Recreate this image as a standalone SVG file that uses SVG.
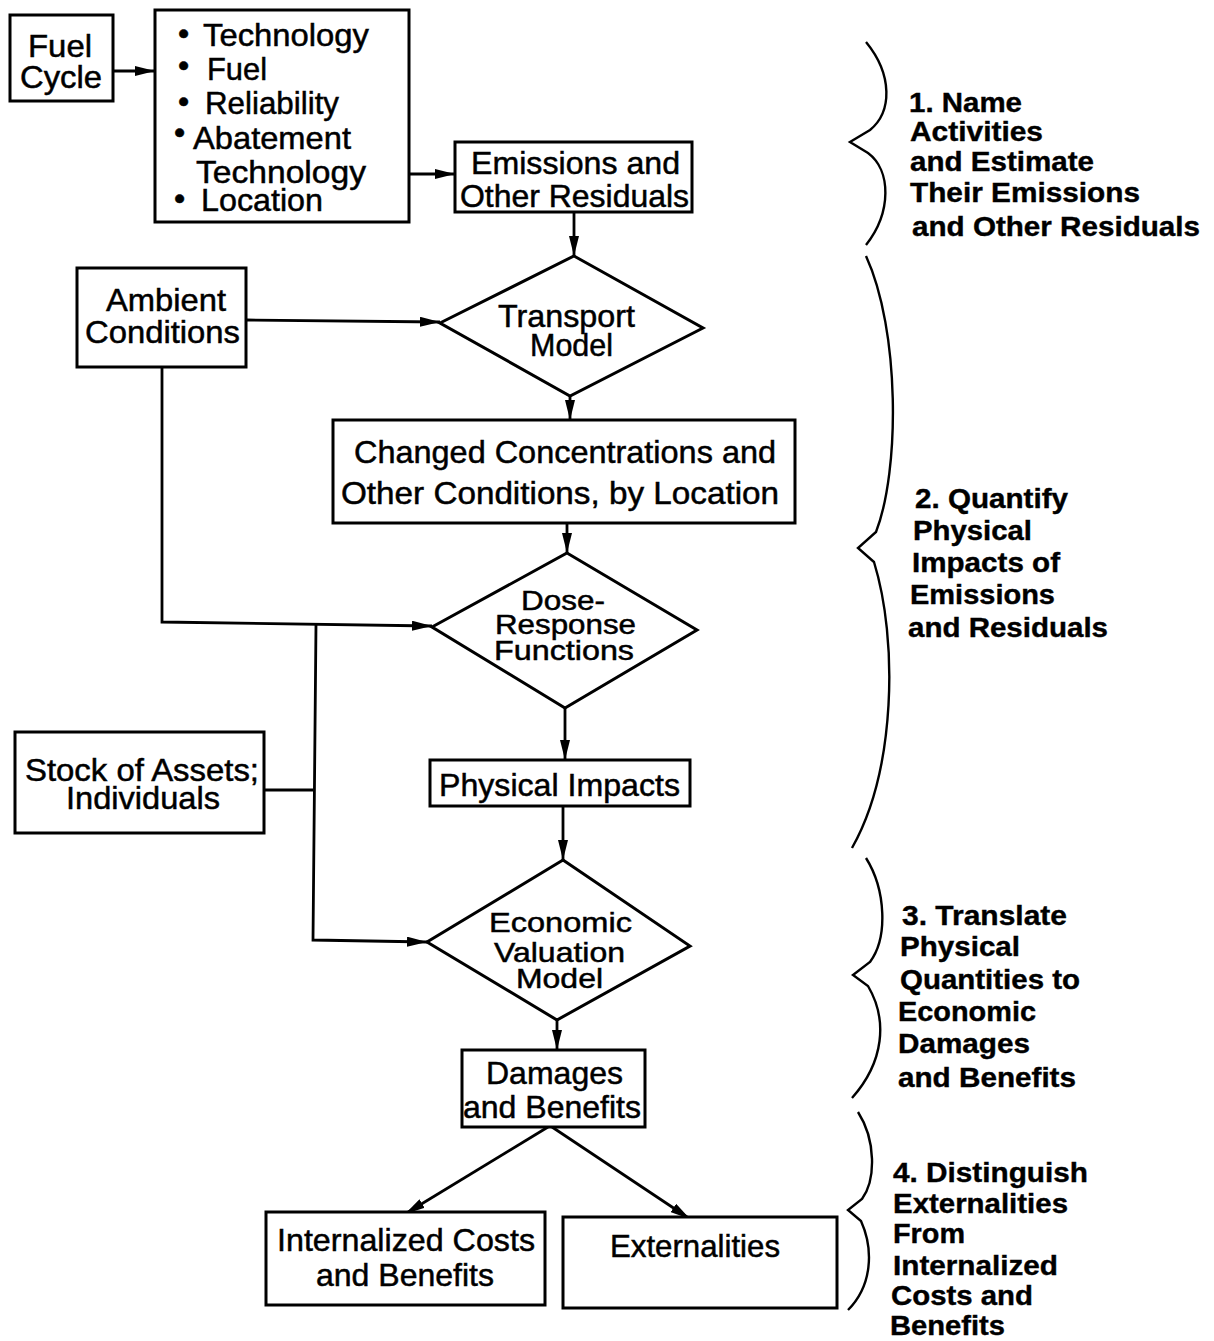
<svg xmlns="http://www.w3.org/2000/svg" width="1214" height="1341" viewBox="0 0 1214 1341">
<style>
.box{fill:#fff;stroke:#000;stroke-width:3}
.t{font-family:"Liberation Sans",Arial,sans-serif;font-size:32px;fill:#000;stroke:#000;stroke-width:0.5}
.s{font-size:28px}
.b{font-family:"Liberation Sans",Arial,sans-serif;font-size:28px;font-weight:bold;fill:#000;stroke:#000;stroke-width:0.4}
.c{fill:none;stroke:#000;stroke-width:2.8}
.br{fill:none;stroke:#000;stroke-width:2.4;stroke-linejoin:miter}
</style>
<defs>
<marker id="ah" viewBox="0 0 20 10" refX="20" refY="5" markerWidth="20" markerHeight="10" markerUnits="userSpaceOnUse" orient="auto">
<path d="M0,0 L20,5 L0,10 Z" fill="#000"/>
</marker>
</defs>
<rect width="1214" height="1341" fill="#fff"/>

<g id="connectors">
<path class="c" d="M113 71 L155 71" marker-end="url(#ah)"/>
<path class="c" d="M409 174 L455 174" marker-end="url(#ah)"/>
<path class="c" d="M574 212 L574 256" marker-end="url(#ah)"/>
<path class="c" d="M247 320 L440 322" marker-end="url(#ah)"/>
<path class="c" d="M570 396 L570 420" marker-end="url(#ah)"/>
<path class="c" d="M162 367 L162 622 L432 626" marker-end="url(#ah)"/>
<path class="c" d="M567 523 L567 553" marker-end="url(#ah)"/>
<path class="c" d="M565 708 L565 760" marker-end="url(#ah)"/>
<path class="c" d="M264 790 L313 790"/>
<path class="c" d="M316 624 L313 940 L427 942" marker-end="url(#ah)"/>
<path class="c" d="M563 806 L563 860" marker-end="url(#ah)"/>
<path class="c" d="M557 1020 L557 1050" marker-end="url(#ah)"/>
<path class="c" d="M548 1127 L405 1214" marker-end="url(#ah)"/>
<path class="c" d="M552 1127 L690 1219" marker-end="url(#ah)"/>
</g>

<g id="fuel-cycle">
<rect class="box" x="10" y="15" width="103" height="86"/>
<text class="t" x="28" y="57" textLength="64" lengthAdjust="spacingAndGlyphs">Fuel</text>
<text class="t" x="20" y="88" textLength="82" lengthAdjust="spacingAndGlyphs">Cycle</text>
</g>

<g id="factors">
<rect class="box" x="155" y="10" width="254" height="212"/>
<text class="t" x="178" y="44">•</text>
<text class="t" x="203" y="46" textLength="166" lengthAdjust="spacingAndGlyphs">Technology</text>
<text class="t" x="178" y="76">•</text>
<text class="t" x="207" y="80" textLength="60" lengthAdjust="spacingAndGlyphs">Fuel</text>
<text class="t" x="178" y="112">•</text>
<text class="t" x="205" y="114" textLength="134" lengthAdjust="spacingAndGlyphs">Reliability</text>
<text class="t" x="174" y="143">•</text>
<text class="t" x="193" y="149" textLength="158" lengthAdjust="spacingAndGlyphs">Abatement</text>
<text class="t" x="196" y="183" textLength="170" lengthAdjust="spacingAndGlyphs">Technology</text>
<text class="t" x="174" y="209">•</text>
<text class="t" x="201" y="211" textLength="122" lengthAdjust="spacingAndGlyphs">Location</text>
</g>

<g id="emissions">
<rect class="box" x="455" y="142" width="237" height="70"/>
<text class="t" x="471" y="174" textLength="209" lengthAdjust="spacingAndGlyphs">Emissions and</text>
<text class="t" x="460" y="207" textLength="229" lengthAdjust="spacingAndGlyphs">Other Residuals</text>
</g>

<g id="ambient">
<rect class="box" x="77" y="268" width="169" height="99"/>
<text class="t" x="106" y="311" textLength="120" lengthAdjust="spacingAndGlyphs">Ambient</text>
<text class="t" x="85" y="343" textLength="155" lengthAdjust="spacingAndGlyphs">Conditions</text>
</g>

<g id="transport-model">
<polygon class="box" points="574,256 703,328 570,396 440,323"/>
<text class="t" x="498" y="327" textLength="137" lengthAdjust="spacingAndGlyphs">Transport</text>
<text class="t" x="530" y="356" textLength="83" lengthAdjust="spacingAndGlyphs">Model</text>
</g>

<g id="changed-concentrations">
<rect class="box" x="333" y="420" width="462" height="103"/>
<text class="t" x="354" y="463" textLength="422" lengthAdjust="spacingAndGlyphs">Changed Concentrations and</text>
<text class="t" x="341" y="504" textLength="438" lengthAdjust="spacingAndGlyphs">Other Conditions, by Location</text>
</g>

<g id="dose-response">
<polygon class="box" points="567,553 697,630 565,708 432,627"/>
<text class="t s" x="521" y="610" textLength="84" lengthAdjust="spacingAndGlyphs">Dose-</text>
<text class="t s" x="495" y="634" textLength="141" lengthAdjust="spacingAndGlyphs">Response</text>
<text class="t s" x="494" y="660" textLength="140" lengthAdjust="spacingAndGlyphs">Functions</text>
</g>

<g id="physical-impacts">
<rect class="box" x="430" y="760" width="260" height="46"/>
<text class="t" x="439" y="796" textLength="241" lengthAdjust="spacingAndGlyphs">Physical Impacts</text>
</g>

<g id="stock-of-assets">
<rect class="box" x="15" y="732" width="249" height="101"/>
<text class="t" x="25" y="781" textLength="234" lengthAdjust="spacingAndGlyphs">Stock of Assets;</text>
<text class="t" x="66" y="809" textLength="154" lengthAdjust="spacingAndGlyphs">Individuals</text>
</g>

<g id="economic-valuation">
<polygon class="box" points="563,860 690,946 557,1020 427,942"/>
<text class="t s" x="489" y="932" textLength="143" lengthAdjust="spacingAndGlyphs">Economic</text>
<text class="t s" x="494" y="962" textLength="131" lengthAdjust="spacingAndGlyphs">Valuation</text>
<text class="t s" x="516" y="988" textLength="87" lengthAdjust="spacingAndGlyphs">Model</text>
</g>

<g id="damages-benefits">
<rect class="box" x="462" y="1050" width="183" height="77"/>
<text class="t" x="486" y="1084" textLength="137" lengthAdjust="spacingAndGlyphs">Damages</text>
<text class="t" x="463" y="1118" textLength="178" lengthAdjust="spacingAndGlyphs">and Benefits</text>
</g>

<g id="internalized">
<rect class="box" x="266" y="1212" width="279" height="93"/>
<text class="t" x="277" y="1251" textLength="258" lengthAdjust="spacingAndGlyphs">Internalized Costs</text>
<text class="t" x="316" y="1286" textLength="178" lengthAdjust="spacingAndGlyphs">and Benefits</text>
</g>

<g id="externalities">
<rect class="box" x="563" y="1217" width="274" height="91"/>
<text class="t" x="610" y="1257" textLength="170" lengthAdjust="spacingAndGlyphs">Externalities</text>
</g>

<g id="brace-1">
<path class="br" d="M866 42 C893 75 892 112 870 130 L850 142 L868 153 C891 170 892 212 866 245"/>
<text class="b" x="909" y="112" textLength="113" lengthAdjust="spacingAndGlyphs">1. Name</text>
<text class="b" x="910" y="141" textLength="133" lengthAdjust="spacingAndGlyphs">Activities</text>
<text class="b" x="910" y="171" textLength="184" lengthAdjust="spacingAndGlyphs">and Estimate</text>
<text class="b" x="910" y="202" textLength="230" lengthAdjust="spacingAndGlyphs">Their Emissions</text>
<text class="b" x="912" y="236" textLength="288" lengthAdjust="spacingAndGlyphs">and Other Residuals</text>
</g>

<g id="brace-2">
<path class="br" d="M866 256 C900 330 900 470 876 532 L858 548 L874 562 C898 640 896 770 852 848"/>
<text class="b" x="915" y="508" textLength="153" lengthAdjust="spacingAndGlyphs">2. Quantify</text>
<text class="b" x="913" y="540" textLength="119" lengthAdjust="spacingAndGlyphs">Physical</text>
<text class="b" x="912" y="572" textLength="148" lengthAdjust="spacingAndGlyphs">Impacts of</text>
<text class="b" x="910" y="604" textLength="145" lengthAdjust="spacingAndGlyphs">Emissions</text>
<text class="b" x="908" y="637" textLength="200" lengthAdjust="spacingAndGlyphs">and Residuals</text>
</g>

<g id="brace-3">
<path class="br" d="M866 858 C886 890 888 938 870 962 L853 975 L868 986 C888 1020 884 1062 852 1098"/>
<text class="b" x="902" y="925" textLength="165" lengthAdjust="spacingAndGlyphs">3. Translate</text>
<text class="b" x="900" y="956" textLength="120" lengthAdjust="spacingAndGlyphs">Physical</text>
<text class="b" x="900" y="989" textLength="180" lengthAdjust="spacingAndGlyphs">Quantities to</text>
<text class="b" x="898" y="1021" textLength="138" lengthAdjust="spacingAndGlyphs">Economic</text>
<text class="b" x="898" y="1053" textLength="132" lengthAdjust="spacingAndGlyphs">Damages</text>
<text class="b" x="898" y="1087" textLength="178" lengthAdjust="spacingAndGlyphs">and Benefits</text>
</g>

<g id="brace-4">
<path class="br" d="M858 1112 C876 1140 876 1180 862 1199 L848 1210 L861 1221 C874 1250 872 1286 848 1310"/>
<text class="b" x="893" y="1182" textLength="195" lengthAdjust="spacingAndGlyphs">4. Distinguish</text>
<text class="b" x="893" y="1213" textLength="175" lengthAdjust="spacingAndGlyphs">Externalities</text>
<text class="b" x="893" y="1243" textLength="72" lengthAdjust="spacingAndGlyphs">From</text>
<text class="b" x="893" y="1275" textLength="165" lengthAdjust="spacingAndGlyphs">Internalized</text>
<text class="b" x="891" y="1305" textLength="142" lengthAdjust="spacingAndGlyphs">Costs and</text>
<text class="b" x="890" y="1335" textLength="115" lengthAdjust="spacingAndGlyphs">Benefits</text>
</g>
</svg>
